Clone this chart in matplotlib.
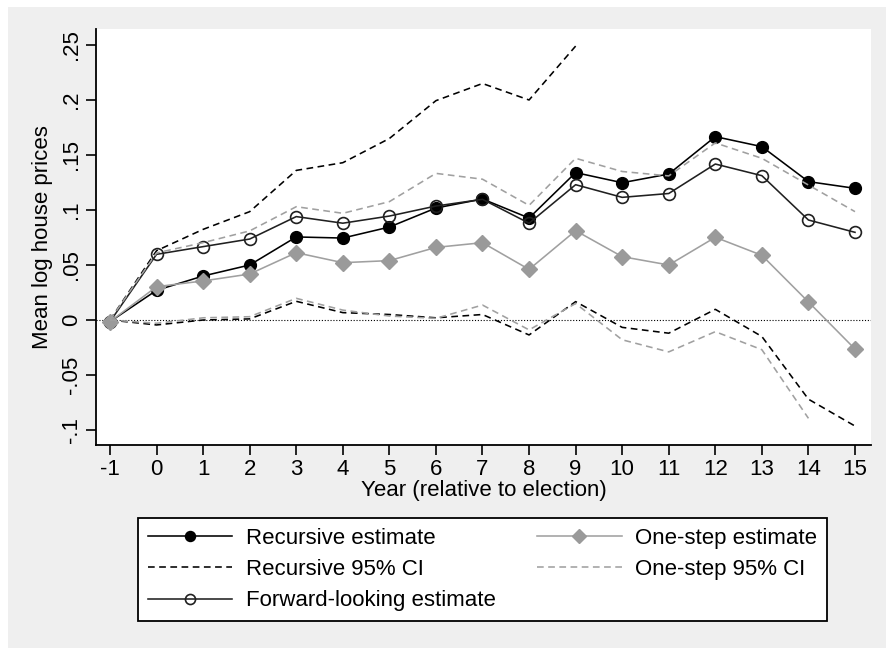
import matplotlib
matplotlib.use("Agg")
import matplotlib.pyplot as plt
import numpy as np
from matplotlib.patches import Rectangle

plt.rcParams['font.family'] = ['Liberation Sans', 'DejaVu Sans']

years = list(range(-1, 16))
recursive = [-0.0015, 0.027, 0.040, 0.050, 0.0755, 0.0745, 0.0845, 0.1018, 0.110, 0.0927,
             0.134, 0.1248, 0.1327, 0.1667, 0.1576, 0.1258, 0.1197]
recursive_ci_up = [0.0, 0.063, 0.0824, 0.0985, 0.136, 0.143, 0.165, 0.1994, 0.215, 0.200, 0.249]
recursive_ci_lo = [0.0, -0.0045, 0.0, 0.001, 0.017, 0.0067, 0.005, 0.002, 0.005, -0.0136,
                   0.0167, -0.0067, -0.012, 0.0097, -0.015, -0.072, -0.0964]
forward = [-0.0015, 0.0597, 0.0667, 0.0736, 0.094, 0.088, 0.0945, 0.1036, 0.1097, 0.088,
           0.123, 0.1115, 0.115, 0.1418, 0.1312, 0.0909, 0.0797]
onestep = [-0.0015, 0.0303, 0.0355, 0.0418, 0.0612, 0.0521, 0.054, 0.066, 0.0703, 0.046,
           0.0812, 0.0576, 0.050, 0.0752, 0.0588, 0.0164, -0.0264]
onestep_ci_up = [0.0, 0.061, 0.0703, 0.081, 0.103, 0.097, 0.1076, 0.1333, 0.128, 0.1042,
                 0.147, 0.135, 0.131, 0.161, 0.147, 0.1227, 0.0985]
onestep_ci_lo = [0.0, -0.003, 0.002, 0.003, 0.0197, 0.009, 0.0036, 0.0015, 0.0136, -0.009,
                 0.015, -0.018, -0.029, -0.0106, -0.027, -0.0894]

ytick_vals = [-0.1, -0.05, 0, 0.05, 0.1, 0.15, 0.2, 0.25]
ytick_labels = ["-.1", "-.05", "0", ".05", ".1", ".15", ".2", ".25"]

W, H = 886, 648
fig = plt.figure(figsize=(W / 100, H / 100), dpi=100)
fig.patch.set_facecolor('white')
bg = Rectangle((8 / W, 0), 1 - 8 / W, (H - 7) / H, transform=fig.transFigure,
               facecolor='#efefef', edgecolor='none', zorder=-10)
fig.patches.append(bg)

ax = fig.add_axes([96 / W, 1 - 445 / H, (871 - 96) / W, (445 - 29) / H])
ax.set_facecolor('white')

gray = '#a0a0a0'
lw = 1.15
dash = (0, (4.2, 2.8))

ax.axhline(0, color='black', lw=0.8, ls=(0, (1, 1.6)), zorder=1)

l1, = ax.plot(years, recursive, color='black', lw=lw, marker='o', ms=8.5,
              mfc='black', mec='black', zorder=3, label='Recursive estimate')
l2, = ax.plot(years[:len(recursive_ci_up)], recursive_ci_up, color='black', lw=lw,
              ls=dash, zorder=3, label='Recursive 95% CI')
ax.plot(years[:len(recursive_ci_lo)], recursive_ci_lo, color='black', lw=lw, ls=dash, zorder=3)
l3, = ax.plot(years, forward, color='#202020', lw=lw, marker='o', ms=8.5,
              mfc='none', mec='#202020', mew=1.2, zorder=4, label='Forward-looking estimate')
l4, = ax.plot(years, onestep, color=gray, lw=lw, marker='D', ms=8,
              mfc='#9a9a9a', mec='#9a9a9a', zorder=4, label='One-step estimate')
l5, = ax.plot(years[:len(onestep_ci_up)], onestep_ci_up, color=gray, lw=lw, ls=dash,
              zorder=5, label='One-step 95% CI')
ax.plot(years[:len(onestep_ci_lo)], onestep_ci_lo, color=gray, lw=lw, ls=dash, zorder=5)

x0 = -1 - 14 / 46.56
x1 = 15 + 16 / 46.56
ax.set_xlim(x0, x1)
ax.set_ylim(-(445 - 320) / 1100, (320 - 29) / 1100)

ax.set_xticks(years)
ax.set_xticklabels([str(y) for y in years], fontsize=16)
ax.set_yticks(ytick_vals)
ax.set_yticklabels(ytick_labels, fontsize=16, rotation=90, va='center')

for s in ['top', 'right']:
    ax.spines[s].set_visible(False)
for s in ['left', 'bottom']:
    ax.spines[s].set_linewidth(1.3)
ax.tick_params(axis='both', direction='out', length=7, width=1.2, color='black', pad=3)

ax.set_xlabel('Year (relative to election)', fontsize=16, labelpad=0)
ax.set_ylabel('Mean log house prices', fontsize=16, labelpad=6)

handles = [l1, l2, l3, l4, l5]
leg = fig.legend(handles=handles, labels=[h.get_label() for h in handles],
                 ncol=2, loc='upper left',
                 bbox_to_anchor=(138 / W, 1 - 518 / H, (827 - 138) / W, 0),
                 mode='expand', fontsize=16, frameon=True, fancybox=False,
                 edgecolor='black', framealpha=1, facecolor='white',
                 handlelength=3.8, handletextpad=0.6, labelspacing=0.46,
                 borderpad=0.45, borderaxespad=0, markerscale=0.85)
leg.get_frame().set_linewidth(1.3)

fig.savefig('out.png', dpi=100)
